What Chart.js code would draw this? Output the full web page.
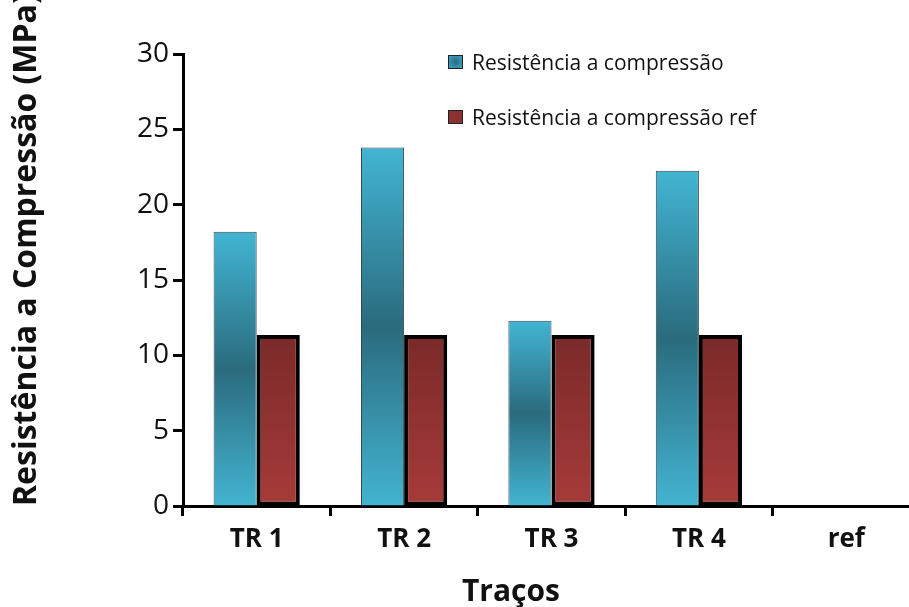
<!DOCTYPE html>
<html><head><meta charset="utf-8">
<script src="https://cdn.jsdelivr.net/npm/chart.js@4.4.0/dist/chart.umd.min.js"></script>
<style>
html,body{margin:0;padding:0;background:#fff;overflow:hidden;width:909px;height:607px;}
#wrap{position:absolute;left:0;top:0;width:920px;height:607px;}
.leg{position:absolute;left:448px;height:24px;font-family:'Open Sans';font-size:21px;color:#111;display:flex;align-items:center;white-space:nowrap;}
.sw{width:13px;height:12px;border:1px solid #222;margin-right:9px;flex:none;}
#xt{position:absolute;left:462px;top:575px;font-family:'Open Sans';font-weight:bold;font-size:30px;line-height:30px;color:#111;white-space:nowrap;}
</style></head>
<body>
<div id="wrap"><canvas id="c" width="920" height="607"></canvas></div>
<div class="leg" style="top:50px"><div class="sw" style="background:radial-gradient(circle,#2a6c7e,#3aa6c4)"></div>Resistência a compressão</div>
<div class="leg" style="top:105px"><div class="sw" style="background:#8c3131"></div>Resistência a compressão ref</div>
<div id="xt">Traços</div>
<script>
const categories = ['TR 1', 'TR 2', 'TR 3', 'TR 4', 'ref'];
const compressao = [18.2, 23.8, 12.3, 22.25, null];
const compressaoRef = [11.35, 11.35, 11.35, 11.35, null];
const yMin = 0, yMax = 30, yStep = 5;

function barGradient(ctx, stops) {
  const chart = ctx.chart;
  if (!chart.chartArea || ctx.raw == null || !chart.scales.y) return stops[Math.floor(stops.length / 2)][1];
  const y = chart.scales.y;
  const top = y.getPixelForValue(ctx.raw), bot = y.getPixelForValue(0);
  const g = chart.ctx.createLinearGradient(0, top, 0, bot);
  stops.forEach(s => g.addColorStop(s[0], s[1]));
  return g;
}
const blueStops = [[0, '#42b5d3'], [0.5, '#2a6b7d'], [1, '#43b4d1']];
const redStops = [[0, '#7a2a29'], [1, '#a63b39']];

new Chart(document.getElementById('c'), {
  type: 'bar',
  data: {
    labels: categories,
    datasets: [
      {
        label: 'Resistência a compressão',
        data: compressao,
        backgroundColor: c => barGradient(c, blueStops),
        borderColor: '#39474d',
        borderWidth: 1,
        categoryPercentage: 0.585,
        barPercentage: 1.0
      },
      {
        label: 'Resistência a compressão ref',
        data: compressaoRef,
        backgroundColor: c => barGradient(c, redStops),
        borderColor: '#000',
        borderWidth: 4,
        borderSkipped: false,
        categoryPercentage: 0.585,
        barPercentage: 1.0
      }
    ]
  },
  options: {
    responsive: false,
    animation: false,
    layout: { padding: { top: 54, left: 0, right: 0, bottom: 0 } },
    plugins: { legend: { display: false }, tooltip: { enabled: false } },
    scales: {
      x: {
        type: 'category',
        offset: true,
        z: 1,
        grid: { display: true, drawOnChartArea: false, drawTicks: true, tickLength: 10, tickWidth: 3, color: '#000', offset: true },
        border: { display: true, width: 3, color: '#000' },
        ticks: { font: { family: 'Open Sans', weight: 'bold', size: 26 }, color: '#111', padding: 8 },
        afterFit: s => { s.height = 101; }
      },
      y: {
        min: yMin, max: yMax,
        ticks: { stepSize: yStep, font: { family: 'Open Sans', size: 28 }, color: '#111', padding: 4 },
        grid: { display: true, drawOnChartArea: false, tickLength: 10, tickWidth: 3, color: '#000' },
        border: { display: true, width: 3, color: '#000' },
        title: {
          display: true, text: 'Resistência a Compressão (MPa)', align: 'start',
          font: { family: 'Open Sans', weight: 'bold', size: 32 }, color: '#111',
          padding: { top: 8, bottom: 0 }
        },
        afterFit: s => { s.width = 183; }
      }
    }
  }
});
</script>
</body></html>
